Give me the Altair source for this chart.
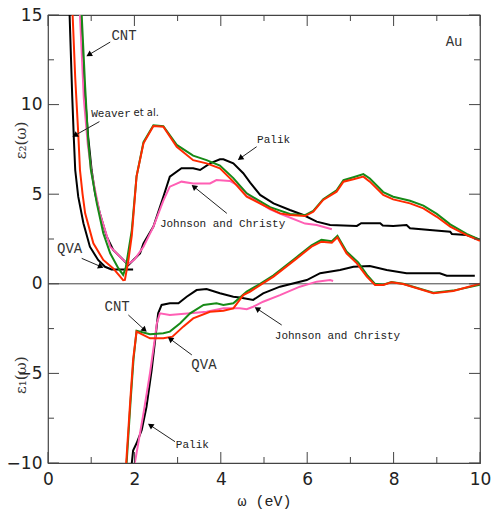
import math
import altair as alt
import pandas as pd

# ---------------- data ----------------
# epsilon_2 (upper family)
e2_weaver_x = [0.50, 0.56, 0.60, 0.63, 0.70, 0.82, 0.97, 1.16, 1.32, 1.47, 1.97]
e2_weaver_y = [15.0, 10.5, 8.0, 6.35, 4.86, 3.38, 2.07, 1.33, 0.95, 0.80, 0.80]

e2_palik_x = [0.76, 0.84, 0.93, 1.01, 1.09, 1.20, 1.36, 1.51, 1.67, 1.86, 2.13, 2.21, 2.44, 2.67,
              2.82, 3.09, 3.36, 3.52, 3.75, 3.98, 4.06, 4.29, 4.52, 4.68, 4.91, 5.22, 5.60, 5.91,
              6.22, 6.53, 7.15, 7.25, 7.38, 7.69, 7.75, 7.99, 8.30, 8.38, 8.84, 9.31, 9.35, 9.69, 10.0]
e2_palik_y = [15.0, 11.0, 8.2, 6.35, 5.05, 3.93, 2.63, 1.89, 1.51, 1.05, 1.70, 2.26, 3.19, 4.86,
              5.98, 6.45, 6.45, 6.35, 6.72, 6.95, 6.95, 6.72, 6.17, 5.65, 4.96, 4.49, 4.12, 3.84,
              3.47, 3.28, 3.23, 3.38, 3.38, 3.38, 3.25, 3.23, 3.28, 3.10, 3.00, 2.90, 2.78, 2.72, 2.45]

e2_jc_x = [0.74, 0.83, 0.92, 1.01, 1.20, 1.44, 1.74, 1.86, 2.00, 2.21, 2.44, 2.67, 2.82, 3.09,
           3.36, 3.75, 3.90, 4.21, 4.44, 4.68, 4.91, 5.14, 5.45, 5.95, 6.22, 6.57]
e2_jc_y = [15.0, 10.3, 7.8, 6.17, 3.93, 2.07, 1.33, 1.10, 1.35, 2.07, 3.19, 4.64, 5.42, 5.70,
           5.60, 5.60, 5.79, 5.74, 5.42, 4.86, 4.50, 4.15, 3.84, 3.36, 3.28, 3.04]

e2_cnt_x = [0.78, 0.86, 0.93, 0.99, 1.13, 1.28, 1.44, 1.63, 1.74, 1.80, 1.94, 2.05, 2.21, 2.44,
            2.67, 2.98, 3.36, 3.67, 3.98, 4.29, 4.60, 5.14, 5.60, 5.95, 6.14, 6.37, 6.68, 6.84,
            7.07, 7.30, 7.45, 7.76, 7.99, 8.38, 8.69, 9.00, 9.31, 9.69, 10.0]
e2_cnt_y = [15.0, 11.0, 8.0, 6.40, 4.49, 2.82, 1.70, 0.86, 0.50, 0.90, 3.00, 6.00, 7.90, 8.85,
            8.80, 7.75, 7.15, 6.90, 6.60, 5.90, 5.05, 4.28, 3.90, 3.83, 4.07, 4.72, 5.22, 5.78,
            5.95, 6.12, 5.88, 5.12, 4.86, 4.63, 4.36, 3.90, 3.32, 2.78, 2.45]

e2_qva_x = [0.57, 0.63, 0.70, 0.74, 0.80, 0.86, 1.05, 1.28, 1.51, 1.74, 1.78, 1.86, 1.94, 2.05,
            2.21, 2.44, 2.67, 2.98, 3.36, 3.67, 3.98, 4.29, 4.60, 5.14, 5.37, 5.60, 5.95, 6.14,
            6.37, 6.68, 6.84, 7.07, 7.30, 7.45, 7.76, 7.99, 8.38, 8.69, 9.00, 9.31, 9.69, 10.0]
e2_qva_y = [15.0, 11.5, 8.4, 6.35, 5.0, 3.93, 2.26, 1.33, 0.86, 0.20, 0.22, 1.30, 2.70, 6.00,
            7.84, 8.80, 8.77, 7.65, 6.90, 6.72, 6.44, 5.70, 4.86, 4.20, 3.93, 3.84, 3.78, 4.02,
            4.68, 5.14, 5.70, 5.83, 5.98, 5.70, 4.96, 4.71, 4.49, 4.21, 3.74, 3.19, 2.72, 2.40]

# epsilon_1 (lower family)
e1_palik_x = [1.94, 1.97, 2.05, 2.17, 2.28, 2.40, 2.48, 2.55, 2.63, 2.82, 3.02, 3.21, 3.44, 3.67,
              3.98, 4.29, 4.44, 4.75, 4.98, 5.37, 5.99, 6.30, 6.76, 7.07, 7.45, 7.84, 8.30, 9.07,
              9.23, 9.88]
e1_palik_y = [-10.0, -9.3, -8.9, -8.16, -6.86, -4.81, -3.14, -1.65, -1.18, -1.09, -1.09, -0.72,
              -0.35, -0.29, -0.53, -0.72, -0.76, -0.90, -0.53, -0.16, 0.21, 0.59, 0.77, 0.95, 0.99,
              0.77, 0.59, 0.59, 0.45, 0.45]

e1_jc_x = [2.01, 2.21, 2.36, 2.48, 2.52, 2.59, 2.82, 3.29, 3.67, 4.06, 4.44, 4.60, 4.75, 4.98,
           5.37, 5.83, 6.22, 6.53, 6.60]
e1_jc_y = [-10.0, -7.23, -5.0, -2.95, -2.2, -1.65, -1.74, -1.65, -1.56, -1.37, -1.37, -1.42,
           -1.28, -1.0, -0.63, -0.16, 0.12, 0.21, 0.16]

e1_cnt_x = [1.82, 1.91, 1.98, 2.05, 2.36, 2.67, 2.82, 3.06, 3.29, 3.60, 3.90, 4.06, 4.29, 4.60,
            4.91, 5.22, 5.76, 6.10, 6.33, 6.57, 6.70, 6.91, 7.18, 7.40, 7.57, 7.76, 7.95, 8.22,
            8.92, 9.38, 10.0]
e1_cnt_y = [-10.0, -6.6, -4.2, -2.62, -2.82, -2.76, -2.67, -2.2, -1.65, -1.18, -1.09, -1.18,
            -1.09, -0.44, 0.0, 0.47, 1.5, 2.15, 2.45, 2.38, 2.68, 1.8, 1.2, 0.45, 0.0, -0.05,
            0.1, 0.0, -0.5, -0.38, -0.05]

e1_qva_x = [1.81, 1.90, 1.97, 2.05, 2.36, 2.67, 2.88, 3.13, 3.36, 3.75, 4.06, 4.29, 4.52, 4.68,
            4.91, 5.22, 5.76, 6.10, 6.33, 6.57, 6.70, 6.91, 7.15, 7.38, 7.57, 7.76, 7.95, 8.22,
            8.92, 9.38, 10.0]
e1_qva_y = [-10.0, -6.67, -4.25, -2.67, -3.04, -3.04, -2.95, -2.39, -1.93, -1.56, -1.5, -1.37,
            -0.63, -0.44, -0.07, 0.40, 1.42, 2.07, 2.35, 2.29, 2.59, 1.70, 1.14, 0.40, -0.07,
            -0.07, 0.08, -0.01, -0.53, -0.40, 0.0]

# annotation labels
big_labels = ["CNT", "QVA", "CNT", "QVA", "Au"]
big_x = [1.76, 0.50, 1.60, 3.61, 9.40]
big_y = [13.85, 1.95, -1.29, -4.53, 13.49]

small_labels = ["Weaver", "Palik", "Johnson and Christy", "Palik", "Johnson and Christy"]
small_x = [1.00, 4.84, 2.59, 2.96, 5.25]
small_y = [9.48, 8.02, 3.34, -9.0, -2.91]

etal_label = ["et al."]
etal_x = [1.98]
etal_y = [9.52]

# arrows: tail -> tip
arrow_tail_x = [1.44, 1.19, 4.83, 4.14, 0.78, 1.86, 3.33, 2.94, 5.41]
arrow_tail_y = [13.49, 9.05, 7.65, 3.93, 1.42, -1.74, -3.97, -8.81, -2.30]
arrow_tip_x = [0.895, 0.57, 4.40, 3.33, 1.28, 2.28, 2.78, 2.32, 4.79]
arrow_tip_y = [12.71, 8.21, 6.92, 5.51, 0.90, -2.67, -2.99, -7.82, -1.31]

x_major = [0, 2, 4, 6, 8, 10]
x_minor = [1, 3, 5, 7, 9]
y_major = [-10, -5, 0, 5, 10, 15]
y_minor = [-7.5, -2.5, 2.5, 7.5, 12.5]

# ---------------- chart ----------------
W, H = 432, 448
PX_X = W / 10.0
PX_Y = H / 25.0

xs = alt.Scale(domain=[0, 10], nice=False, zero=False)
ys = alt.Scale(domain=[-10, 15], nice=False, zero=False)

colors = {"black": "#000000", "pink": "#ff5fb4", "green": "#178a17", "red": "#ff2a00"}

curves = [
    ("e2_weaver", "black", e2_weaver_x, e2_weaver_y),
    ("e2_palik", "black", e2_palik_x, e2_palik_y),
    ("e1_palik", "black", e1_palik_x, e1_palik_y),
    ("e2_jc", "pink", e2_jc_x, e2_jc_y),
    ("e1_jc", "pink", e1_jc_x, e1_jc_y),
    ("e2_cnt", "green", e2_cnt_x, e2_cnt_y),
    ("e1_cnt", "green", e1_cnt_x, e1_cnt_y),
    ("e2_qva", "red", e2_qva_x, e2_qva_y),
    ("e1_qva", "red", e1_qva_x, e1_qva_y),
]

layers = []

# zero line
layers.append(
    alt.Chart(pd.DataFrame({"y": [0]})).mark_rule(color="#444", strokeWidth=1).encode(
        y=alt.Y("y:Q", scale=ys)
    )
)

for col in ["black", "pink", "green", "red"]:
    rows = []
    for name, c, cx, cy in curves:
        if c != col:
            continue
        assert len(cx) == len(cy), name
        for i, (a, b) in enumerate(zip(cx, cy)):
            rows.append({"curve": name, "i": i, "x": a, "y": b})
    df = pd.DataFrame(rows)
    layers.append(
        alt.Chart(df).mark_line(color=colors[col], strokeWidth=2, clip=True).encode(
            x=alt.X("x:Q", scale=xs),
            y=alt.Y("y:Q", scale=ys),
            detail="curve:N",
            order="i:Q",
        )
    )

# arrows
arows = []
for tx, ty, hx, hy in zip(arrow_tail_x, arrow_tail_y, arrow_tip_x, arrow_tip_y):
    dx = (hx - tx) * PX_X
    dy = -(hy - ty) * PX_Y
    L = math.hypot(dx, dy)
    ux, uy = dx / L, dy / L
    ang = math.degrees(math.atan2(ux, -uy)) % 360
    cx = hx - 3.5 * ux / PX_X
    cy = hy + 3.5 * uy / PX_Y
    arows.append({"x": tx, "y": ty, "x2": cx, "y2": cy, "hx": cx, "hy": cy, "ang": ang})
adf = pd.DataFrame(arows)
layers.append(
    alt.Chart(adf).mark_rule(color="#222", strokeWidth=1).encode(
        x=alt.X("x:Q", scale=xs), y=alt.Y("y:Q", scale=ys), x2="x2:Q", y2="y2:Q"
    )
)
layers.append(
    alt.Chart(adf).mark_point(shape="triangle", filled=True, size=42, color="#000", opacity=1).encode(
        x=alt.X("hx:Q", scale=xs), y=alt.Y("hy:Q", scale=ys), angle=alt.Angle("ang:Q", scale=None)
    )
)

# labels
layers.append(
    alt.Chart(pd.DataFrame({"t": big_labels, "x": big_x, "y": big_y})).mark_text(
        font="Liberation Mono", fontSize=14, color="#333", align="center", baseline="middle"
    ).encode(x=alt.X("x:Q", scale=xs), y=alt.Y("y:Q", scale=ys), text="t:N")
)
layers.append(
    alt.Chart(pd.DataFrame({"t": small_labels, "x": small_x, "y": small_y})).mark_text(
        font="Liberation Mono", fontSize=11, color="#222", align="left", baseline="middle"
    ).encode(x=alt.X("x:Q", scale=xs), y=alt.Y("y:Q", scale=ys), text="t:N")
)
layers.append(
    alt.Chart(pd.DataFrame({"t": etal_label, "x": etal_x, "y": etal_y})).mark_text(
        font="DejaVu Sans", fontSize=10, color="#222", align="left", baseline="middle"
    ).encode(x=alt.X("x:Q", scale=xs), y=alt.Y("y:Q", scale=ys), text="t:N")
)

# y titles
layers.append(
    alt.Chart(pd.DataFrame({"t": ["ε₂(ω)", "ε₁(ω)"], "y": [8.0, -5.1]})).mark_text(
        font="DejaVu Serif", fontSize=15, color="#333", angle=270, align="center", baseline="middle"
    ).encode(x=alt.value(-27), y=alt.Y("y:Q", scale=ys), text="t:N")
)

# tick marks (inside)
def tick_rules(vals, orient, length):
    df = pd.DataFrame({"v": vals})
    out = []
    if orient == "x":
        for y0, y1 in [(H, H - length), (0, length)]:
            out.append(
                alt.Chart(df).mark_rule(color="#444", strokeWidth=1).encode(
                    x=alt.X("v:Q", scale=xs), y=alt.value(y0), y2=alt.value(y1)
                )
            )
    else:
        for x0, x1 in [(0, length), (W, W - length)]:
            out.append(
                alt.Chart(df).mark_rule(color="#444", strokeWidth=1).encode(
                    y=alt.Y("v:Q", scale=ys), x=alt.value(x0), x2=alt.value(x1)
                )
            )
    return out

layers += tick_rules(x_major, "x", 11)
layers += tick_rules(x_minor, "x", 6)
layers += tick_rules(y_major, "y", 11)
layers += tick_rules(y_minor, "y", 6)

# axes carrier
axis_df = pd.DataFrame({"x": [0, 10], "y": [-10, 15]})
axes = alt.Chart(axis_df).mark_point(opacity=0).encode(
    x=alt.X(
        "x:Q",
        scale=xs,
        axis=alt.Axis(
            values=x_major, ticks=False, grid=False, domain=False, labelFont="DejaVu Sans",
            labelFontSize=17, labelColor="#222", labelPadding=8, title="ω (eV)",
            titleFont="Liberation Mono", titleFontSize=15, titleFontWeight="normal",
            titleColor="#222", titlePadding=6, labelFlush=False,
        ),
    ),
    y=alt.Y(
        "y:Q",
        scale=ys,
        axis=alt.Axis(
            values=y_major, ticks=False, grid=False, domain=False, labelFont="DejaVu Sans",
            labelFontSize=17, labelColor="#222", labelPadding=6, title=None, labelFlush=False,
        ),
    ),
)

chart = (
    alt.layer(axes, *layers)
    .properties(
        width=W,
        height=H,
        autosize=alt.AutoSizeParams(type="none"),
        padding={"left": 48, "top": 15, "right": 13, "bottom": 54},
        background="white",
    )
    .configure_view(stroke="#444", strokeWidth=1.2)
)

chart.save("out.html", embed_options={"renderer": "svg", "actions": False})
